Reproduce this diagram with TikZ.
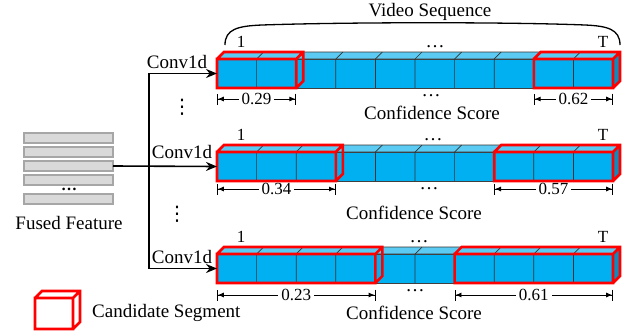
\documentclass[tikz,border=0pt]{standalone}
\usepackage{fontspec}
\setmainfont{Liberation Serif}
\newfontfamily\symfont{DejaVu Sans}
\usetikzlibrary{arrows.meta,positioning}

\definecolor{cellfront}{HTML}{00B0F0}
\definecolor{celltop}{HTML}{5CCBF4}
\definecolor{cellside}{HTML}{0A8CBF}
\definecolor{featfill}{HTML}{D9D9D9}
\definecolor{featline}{HTML}{A6A6A6}

% red cube round a run of cells: x left, x right, y top, y bottom
\newcommand{\candbox}[4]{%
  \draw[candline] (#1,#3) rectangle (#2,#4)
    (#1,#3) -- ++(7,-7) -- ({#2+7},{#3-7}) -- ({#2+7},{#4-7}) -- (#2,#4)
    (#2,#3) -- ++(7,-7);
}

\begin{document}
\begin{tikzpicture}[x=1pt, y=-1pt,
    lbl/.style={font=\fontsize{19}{22}\selectfont, inner sep=0pt},
    small/.style={font=\fontsize{17}{20}\selectfont, inner sep=0pt},
    vdot/.style={font=\symfont\fontsize{20}{22}\selectfont, inner sep=0pt},
    featrow/.style={draw=featline, fill=featfill, line width=2pt, minimum width=89pt, minimum height=10pt, inner sep=0pt, outer sep=0pt},
    barfront/.style={draw=black!75, fill=cellfront, line width=0.7pt, minimum width=396pt, minimum height=29pt, inner sep=0pt, outer sep=0pt, anchor=north west},
    cellline/.style={draw=black!80, line width=0.7pt},
    candline/.style={draw=red, line width=2.6pt, line join=miter},
    flow/.style={line width=1.6pt, line join=miter},
    dimarrow/.style={line width=0.8pt, arrows={Bar[width=11pt]Latex[length=6pt,width=5pt]-Latex[length=6pt,width=5pt]Bar[width=11pt]}}]
    \useasboundingbox (0,0) rectangle (641,335);

    % Fused feature stack
    \foreach \i/\yy in {1/138, 2/152, 3/166, 4/180, 5/198.5}
        \node[featrow] (row\i) at (68.5,\yy) {};
    \node[font=\fontsize{16}{18}\selectfont\bfseries, inner sep=0pt] (featdots) at (69,189) {\dots};
    \node[lbl] (fusedlbl) at (69,223) {Fused Feature};

    % Sequences with their candidate segments
    \foreach \yt/\n/\dimy/\vl/\vr/\dotx [count=\b] in
        {59/2/99/0.29/0.62/435, 152/3/189/0.34/0.57/433, 254/4/295/0.23/0.61/419} {
        \pgfmathsetmacro{\yb}{\yt+29}
        \pgfmathsetmacro{\xl}{217+\n*39.6}
        \pgfmathsetmacro{\xr}{613-\n*39.6}
        % top and side faces
        \filldraw[cellline, fill=celltop] (217,\yt) -- ++(7,-7) -- (620,{\yt-7}) -- (613,\yt) -- cycle;
        \filldraw[cellline, fill=cellside] (613,\yt) -- ++(7,-7) -- (620,{\yb-7}) -- (613,\yb) -- cycle;
        \node[barfront] (bar\b) at (217,\yt) {};
        \foreach \k in {1,...,9}
            \draw[cellline] ({217+\k*39.6},\yt) -- ++(0,29) ({217+\k*39.6},\yt) -- ++(7,-7);
        \candbox{217}{\xl}{\yt}{\yb}
        \candbox{\xr}{613}{\yt}{\yb}
        % labels
        \node[small] (first\b) at (241,{\yt-17}) {1};
        \node[small] (last\b) at (603,{\yt-17}) {T};
        \node[lbl] (topdots\b) at (\dotx,{\yt-12}) {\dots};
        \node[lbl] (botdots\b) at ({\dotx-4},{\yb+8}) {\dots};
        % scores
        \coordinate (dl\b) at (217,\dimy);
        \coordinate (dm\b) at (\xl,\dimy);
        \coordinate (dn\b) at (\xr,\dimy);
        \coordinate (dr\b) at (613,\dimy);
        \draw[dimarrow] (dl\b) -- node[small, fill=white, inner xsep=3pt] {\vl} (dm\b);
        \draw[dimarrow] (dn\b) -- node[small, fill=white, inner xsep=3pt] {\vr} (dr\b);
    }
    \node[lbl] (score1) at (432,113) {Confidence Score};
    \node[lbl] (score2) at (414,213) {Confidence Score};
    \node[lbl] (score3) at (414,313) {Confidence Score};

    % Video sequence brace
    \draw[line width=1.3pt] (225,45) .. controls (225,29) and (238,26) .. (262,25)
        .. controls (350,22) and (510,22) .. (585,25)
        .. controls (607,26) and (620,29) .. (620,45);
    \node[lbl] (videolbl) at (430,12) {Video Sequence};

    % Conv1d branches
    \coordinate (split) at (149,0);
    \draw[flow, -{Stealth[length=11pt, width=9pt]}] (row3.east) -- (bar2.west);
    \draw[flow, {Stealth[length=11pt, width=9pt]}-{Stealth[length=11pt, width=9pt]}]
        (bar1.west) -- (bar1.west -| split) -- (bar3.west -| split) -- (bar3.west);
    \node[lbl] (conv1) at (177,62) {Conv1d};
    \node[lbl] (conv2) at (182,152) {Conv1d};
    \node[lbl] (conv3) at (182,257) {Conv1d};
    \node[vdot] (vdots1) at (182,107) {⋮};
    \node[vdot] (vdots2) at (177,214) {⋮};

    % Legend
    \candbox{35}{73}{298}{329}
    \node[lbl, anchor=west] (legendlbl) at (92,313) {Candidate Segment};
\end{tikzpicture}
\end{document}
